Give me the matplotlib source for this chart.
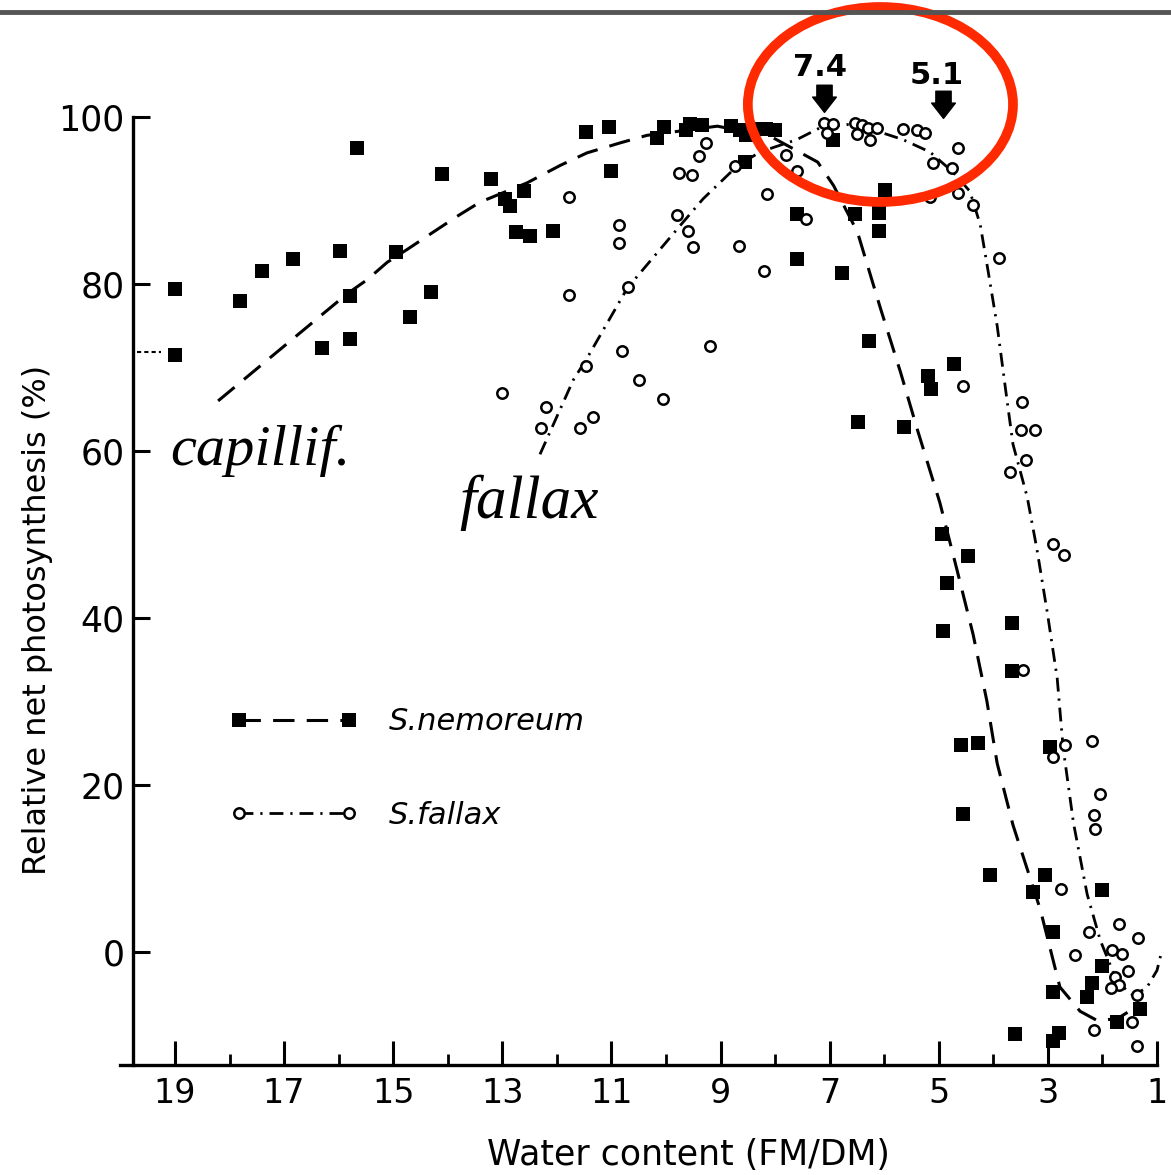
#!/usr/bin/env python
'''
relative net photosynthesis vs. water content, S. nemoreum and S. fallax
'''

import matplotlib
matplotlib.use('Agg')
import matplotlib.pyplot as plt
from matplotlib.path import Path
from matplotlib.patches import Ellipse
from matplotlib.lines import Line2D

OUT_FILE = 'out.png'

# S. nemoreum (filled squares)
nem_x = [19.0, 19.0, 17.8, 17.4, 16.84, 16.3, 15.97, 15.8, 15.8, 15.66, 14.95, 14.7, 14.3, 14.1,
         13.2, 12.95, 12.86, 12.75, 12.6, 12.5, 12.07, 11.47, 11.04, 11.0, 10.16, 10.03, 9.63,
         9.56, 9.34, 8.8, 8.65, 8.53, 8.35, 8.17, 8.0, 8.55, 7.6, 7.6, 6.94, 6.78, 6.53, 6.28,
         6.48, 6.1, 6.1, 5.98, 5.63, 5.2, 5.15, 4.72, 4.94, 4.85, 4.46, 4.92, 4.6, 4.28, 4.55,
         4.07, 3.65, 3.65, 2.96, 3.05, 3.27, 2.0, 2.9, 2.0, 2.2, 2.28, 2.9, 3.6, 2.8, 2.9, 1.73, 1.31]
nem_y = [79.4, 71.5, 78.0, 81.6, 83.0, 72.3, 84.0, 78.6, 73.4, 96.3, 83.8, 76.1, 79.0, 93.2,
         92.6, 90.2, 89.3, 86.2, 91.1, 85.8, 86.4, 98.2, 98.8, 93.5, 97.5, 98.8, 98.4,
         99.2, 99.0, 98.9, 98.4, 97.8, 98.6, 98.6, 98.4, 94.6, 88.4, 83.0, 97.2, 81.3, 88.4, 73.2,
         63.5, 88.5, 86.3, 91.3, 62.9, 69.0, 67.4, 70.4, 50.0, 44.2, 47.4, 38.5, 24.8, 25.0, 16.5,
         9.2, 39.4, 33.7, 24.6, 9.2, 7.2, 7.4, 2.4, -1.7, -3.7, -5.4, -4.8, -9.8, -9.7, -10.7, -8.4, -6.8]

# S. fallax (open circles)
fal_x = [13.0, 12.2, 12.3, 11.78, 11.78, 11.58, 11.33, 11.46, 10.86, 10.86, 10.8, 10.5, 10.7,
         10.05, 9.2, 9.8, 9.53, 9.76, 9.6, 9.5, 9.4, 9.27, 8.66, 8.2, 8.15, 8.73, 7.8, 7.6, 7.44,
         7.1, 6.94, 6.54, 6.4, 6.3, 6.13, 6.5, 6.26, 7.05, 5.65, 5.4, 5.26, 4.65, 5.1, 4.75, 5.17,
         4.65, 4.38, 3.9, 4.55, 3.47, 3.5, 3.23, 3.4, 3.7, 2.9, 2.7, 3.46, 2.68, 2.2, 2.9, 2.04,
         2.15, 2.13, 2.76, 1.7, 2.24, 1.35, 2.5, 1.82, 1.65, 1.53, 1.77, 1.7, 1.85, 1.36, 2.15, 1.45, 1.36]
fal_y = [66.9, 65.3, 62.7, 90.4, 78.7, 62.7, 64.1, 70.2, 87.1, 84.9, 72.0, 68.5, 79.6,
         66.2, 72.6, 88.3, 93.0, 93.3, 86.4, 84.4, 95.3, 96.9, 84.5, 81.6, 90.8, 94.1, 95.4, 93.5, 87.8,
         99.3, 99.2, 99.3, 99.0, 98.7, 98.7, 98.0, 97.3, 98.1, 98.6, 98.5, 98.1, 96.3, 94.5, 93.9, 90.4,
         90.9, 89.5, 83.1, 67.8, 65.9, 62.5, 62.5, 58.9, 57.5, 48.9, 47.5, 33.8, 24.8, 25.3, 23.4, 18.9,
         16.4, 14.7, 7.6, 3.3, 2.4, 1.7, -0.4, 0.2, -0.3, -2.3, -3.0, -4.0, -4.3, -5.2, -9.4, -8.4, -11.3]

# hand-drawn fit curves, traced
nem_fit_x = [18.21, 15.85, 15.48, 15.11, 14.73, 14.27, 13.83, 13.41, 12.55, 11.94, 11.45, 10.84,
             10.35, 9.06, 8.09, 7.22, 6.93, 6.49, 6.07, 5.7, 5.39, 4.98, 4.66, 4.37, 4.12, 3.93,
             3.64, 3.14, 2.78, 2.41, 2.1, 1.73, 1.46]
nem_fit_y = [66.0, 78.8, 80.5, 82.6, 84.2, 86.2, 88.1, 89.8, 92.1, 94.2, 95.7, 96.9,
             97.8, 98.9, 97.7, 94.6, 91.8, 86.2, 77.1, 69.4, 62.5, 53.8, 45.6, 38.0, 30.1, 22.6,
             15.2, 5.1, -4.2, -7.1, -8.2, -8.0, -6.9]
fal_fit_x = [12.31, 11.7, 11.44, 10.71, 9.74, 9.32, 8.7, 8.28, 7.6, 7.18, 6.68, 6.08, 5.66, 5.16,
             4.74, 4.43, 4.24, 4.1, 3.93, 3.75, 3.64, 3.38, 3.2, 3.01, 2.83, 2.72, 2.53, 2.28,
             2.04, 1.73, 1.44, 1.19, 1.0, 0.91]
fal_fit_y = [59.6, 68.5, 71.2, 79.5, 87.0, 90.2, 94.1, 95.8, 97.3, 98.7, 99.1, 98.2, 97.3, 95.8,
             93.4, 91.1, 87.1, 81.7, 75.0, 66.1, 60.8, 54.5, 48.2, 40.6, 32.8, 24.4, 15.4, 6.9,
             1.4, -3.6, -5.2, -4.3, -2.2, 0.2]

# short dashed stub left of the first points
stub_x = [19.7, 19.25]
stub_y = [71.9, 71.9]

# optimum arrows
arrow_x = [7.1, 4.92]
arrow_y = [102.0, 101.3]
arrow_labels = ['7.4', '5.1']
arrow_label_x = [7.18, 5.03]
arrow_label_y = [105.9, 105.0]

x_major = list(range(19, 0, -2))
x_minor = list(range(18, 1, -2))
y_major = list(range(0, 101, 20))

DASH = (0, (7, 4))
DASHDOT = (0, (5, 2.5, 0.8, 2.5))

W, H = 1171, 1175
fig = plt.figure(figsize=(W / 100, H / 100), dpi=100)
ax = fig.add_axes([120.45 / W, 1 - 1064.7 / H, (1165.2 - 120.45) / W, (1064.7 - 50.2) / H])
ax.set_xlim(20, 0.85)
ax.set_ylim(-13.5, 108)

for side in ('top', 'right'):
    ax.spines[side].set_visible(False)
ax.spines['left'].set_position(('data', 19.77))
ax.spines['left'].set_bounds(-13.5, 100)
ax.spines['bottom'].set_bounds(20, 1)
for side in ('left', 'bottom'):
    ax.spines[side].set_linewidth(2.4)

ax.set_xticks(x_major)
ax.set_xticks(x_minor, minor=True)
ax.set_yticks(y_major)
ax.tick_params(axis='x', which='major', direction='in', length=17, width=2.2, pad=9, labelsize=24)
ax.tick_params(axis='x', which='minor', direction='in', length=8, width=2.0)
ax.tick_params(axis='y', which='major', direction='in', length=12, width=2.2, pad=6, labelsize=25)

ax.plot(nem_fit_x, nem_fit_y, color='k', lw=2.2, ls=DASH)
ax.plot(fal_fit_x, fal_fit_y, color='k', lw=2.0, ls=DASHDOT, clip_on=False)
ax.plot(stub_x, stub_y, color='k', lw=1.5, ls=(0, (2, 1.5)), clip_on=False)

ax.plot(nem_x, nem_y, ls='none', marker='s', ms=10, color='k', mew=0, zorder=3)
ax.plot(fal_x, fal_y, ls='none', marker='o', ms=7.5, mfc='white', mec='k', mew=1.8, zorder=4)

# block arrows pointing down
arrow_path = Path([(-0.45, 0.9), (0.45, 0.9), (0.45, 0.2), (0.7, 0.2), (0.0, -0.7),
                   (-0.7, 0.2), (-0.45, 0.2), (-0.45, 0.9)],
                  [Path.MOVETO] + [Path.LINETO] * 6 + [Path.CLOSEPOLY])
ax.plot(arrow_x, arrow_y, ls='none', marker=arrow_path, ms=22, color='k', clip_on=False, zorder=5)
for lx, ly, txt in zip(arrow_label_x, arrow_label_y, arrow_labels):
    ax.text(lx, ly, txt, ha='center', va='center', fontsize=22, fontweight='bold')

ax.add_patch(Ellipse((6.07, 101.5), width=4.86, height=23.35, fill=False,
                     edgecolor='#ff2a00', lw=7, clip_on=False, zorder=6))

ax.text(19.08, 58.3, 'capillif.', family='Liberation Serif', style='italic', fontsize=42,
        ha='left', va='baseline')
ax.text(13.78, 52.0, 'fallax', family='Liberation Serif', style='italic', fontsize=44,
        ha='left', va='baseline')

h_nem = Line2D([], [], color='k', lw=2.2, ls=DASH, marker='s', ms=10, mew=0)
h_fal = Line2D([], [], color='k', lw=2.0, ls=DASHDOT, marker='o', ms=7.5, mfc='white', mec='k', mew=1.8)
ax.legend([h_nem, h_fal], ['S.nemoreum', 'S.fallax'], loc='center left',
          bbox_to_anchor=(0.105, 0.292), frameon=False, numpoints=2, handlelength=4.2,
          handletextpad=1.0, labelspacing=2.1, borderpad=0, borderaxespad=0,
          prop={'style': 'italic', 'size': 22})

fig.text(38 / W, 1 - 620 / H, 'Relative net photosynthesis (%)', rotation=90,
         ha='center', va='center', fontsize=23)
fig.text(688 / W, 1 - 1155 / H, 'Water content (FM/DM)', ha='center', va='center', fontsize=25)

# scan edge at the top of the page
fig.add_artist(Line2D([0, 1], [1 - 12 / H, 1 - 12 / H], transform=fig.transFigure,
                      color='#555555', lw=3.5))

fig.savefig(OUT_FILE, dpi=100)
plt.close(fig)
